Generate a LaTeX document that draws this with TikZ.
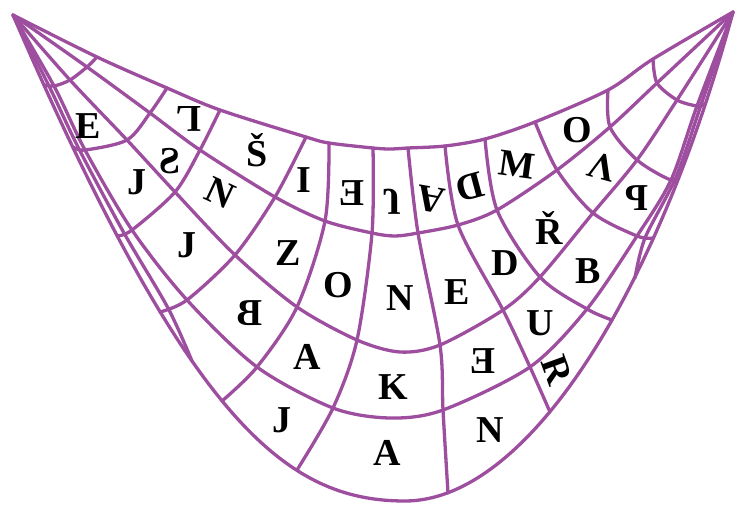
\documentclass[tikz,border=0pt]{standalone}
\usepackage{fontspec}
\setmainfont{Liberation Serif}
\definecolor{web}{RGB}{158,78,158}
\begin{document}
\begin{tikzpicture}[x=1pt,y=-1pt,
  wline/.style={draw=web,line width=3.3pt,line join=round,line cap=round},
  lt/.style={font=\fontsize{38}{40}\selectfont\bfseries,inner sep=0pt,text=black}]
\useasboundingbox (0,0) rectangle (738,506);
\coordinate (L) at (13,15);
\coordinate (R) at (733,12);
\coordinate (bot) at (405,501);
% grid points: a=B0 (top), b=B1, c=B2, d=B3, e=inner edge line, f=outer
\coordinate (c1a) at (97,57);  \coordinate (c1b) at (87,67);  \coordinate (c1c) at (70,80);  \coordinate (c1d) at (54,86);  \coordinate (c1e) at (49,86);  \coordinate (c1f) at (44,85);
\coordinate (c2a) at (167,88); \coordinate (c2b) at (150,113); \coordinate (c2c) at (127,140); \coordinate (c2d) at (85,150); \coordinate (c2e) at (79,149); \coordinate (c2f) at (73,147);
\coordinate (c3a) at (220,110); \coordinate (c3b) at (200,150); \coordinate (c3c) at (175,192); \coordinate (c3d) at (132,230); \coordinate (c3e) at (124,233); \coordinate (c3f) at (117,236);
\coordinate (c4a) at (306,137); \coordinate (c4b) at (275,197); \coordinate (c4c) at (235,255); \coordinate (c4d) at (187,300); \coordinate (c4e) at (168,308); \coordinate (c4f) at (160,312);
\coordinate (c5a) at (329,143); \coordinate (c5b) at (325,221); \coordinate (c5c) at (297,307); \coordinate (c5d) at (257,367); \coordinate (c5f) at (222,401);
\coordinate (c6a) at (373,148); \coordinate (c6b) at (372,233); \coordinate (c6c) at (357,340); \coordinate (c6d) at (333,408); \coordinate (c6f) at (297,470);
\coordinate (c7a) at (408,148); \coordinate (c7b) at (418,233); \coordinate (c7c) at (440,345); \coordinate (c7d) at (443,410); \coordinate (c7f) at (448,493);
\coordinate (c8a) at (445,146); \coordinate (c8b) at (458,225); \coordinate (c8c) at (503,310); \coordinate (c8d) at (530,367); \coordinate (c8f) at (550,412);
\coordinate (c9a) at (485,139); \coordinate (c9b) at (497,210); \coordinate (c9c) at (540,277); \coordinate (c9d) at (587,309); \coordinate (c9f) at (612,320);
\coordinate (c10a) at (535,122); \coordinate (c10b) at (557,170); \coordinate (c10c) at (593,213); \coordinate (c10d) at (637,236); \coordinate (c10e) at (645,238); \coordinate (c10f) at (653,238);
\coordinate (c11a) at (608,90); \coordinate (c11b) at (610,127); \coordinate (c11c) at (637,160); \coordinate (c11d) at (671,180); \coordinate (c11e) at (676,177); \coordinate (c11f) at (680,173);
\coordinate (c12a) at (653,59); \coordinate (c12b) at (657,83); \coordinate (c12c) at (677,100); \coordinate (c12d) at (697,106); \coordinate (c12e) at (701,105); \coordinate (c12f) at (705,104);
\coordinate (m0) at (390,149);
\coordinate (m1) at (395,236);
\coordinate (m2) at (400,352);
\coordinate (m3) at (390,418);
\coordinate (jl) at (192,361);
\coordinate (jr) at (635,278);
% band lines
\draw[wline] plot[smooth] coordinates {(L) (c1a) (c2a) (c3a) (c4a) (c5a) (c6a) (m0) (c7a) (c8a) (c9a) (c10a) (c11a) (c12a) (R)};
\draw[wline] plot[smooth] coordinates {(L) (c1b) (c2b) (c3b) (c4b) (c5b) (c6b) (m1) (c7b) (c8b) (c9b) (c10b) (c11b) (c12b) (R)};
\draw[wline] plot[smooth] coordinates {(L) (c1c) (c2c) (c3c) (c4c) (c5c) (c6c) (m2) (c7c) (c8c) (c9c) (c10c) (c11c) (c12c) (R)};
\draw[wline] plot[smooth] coordinates {(L) (c1d) (c2d) (c3d) (c4d) (c5d) (c6d) (m3) (c7d) (c8d) (c9d) (c10d) (c11d) (c12d) (R)};
\draw[wline] (L) .. controls (188,420) and (285,501) .. (bot) .. controls (525,501) and (655,300) .. (R);
\draw[wline] plot[smooth] coordinates {(L) (c1e) (c2e) (c3e) (c4e) (jl)};
\draw[wline] plot[smooth] coordinates {(R) (c12e) (c11e) (c10e) (jr)};
% cross lines
\draw[wline] plot[smooth] coordinates {(c1a) (c1b) (c1c) (c1d) (c1f)};
\draw[wline] plot[smooth] coordinates {(c2a) (c2b) (c2c) (c2d) (c2f)};
\draw[wline] plot[smooth] coordinates {(c3a) (c3b) (c3c) (c3d) (c3f)};
\draw[wline] plot[smooth] coordinates {(c4a) (c4b) (c4c) (c4d) (c4f)};
\draw[wline] plot[smooth] coordinates {(c5a) (c5b) (c5c) (c5d) (c5f)};
\draw[wline] plot[smooth] coordinates {(c6a) (c6b) (c6c) (c6d) (c6f)};
\draw[wline] plot[smooth] coordinates {(c7a) (c7b) (c7c) (c7d) (c7f)};
\draw[wline] plot[smooth] coordinates {(c8a) (c8b) (c8c) (c8d) (c8f)};
\draw[wline] plot[smooth] coordinates {(c9a) (c9b) (c9c) (c9d) (c9f)};
\draw[wline] plot[smooth] coordinates {(c10a) (c10b) (c10c) (c10d) (c10f)};
\draw[wline] plot[smooth] coordinates {(c11a) (c11b) (c11c) (c11d) (c11f)};
\draw[wline] plot[smooth] coordinates {(c12a) (c12b) (c12c) (c12d) (c12f)};
% letters, top band
\node[lt,rotate=180] (tL) at (189,119) {L};
\node[lt] (tS1) at (257,150) {Š};
\node[lt] (tI) at (304,180) {I};
\node[lt,xscale=-1] (tE2) at (352,193) {E};
\node[lt,yscale=-1] (tJ1) at (392,202) {J};
\node[lt,rotate=170] (tA1) at (431,199) {A};
\node[lt,rotate=15,xscale=-1] (tD1) at (470,187) {D};
\node[lt,rotate=-8] (tM) at (517,165) {M};
\node[lt] (tO1) at (577,130) {O};
% second band
\node[lt,xscale=-1] (tS2) at (170,161) {S};
\node[lt,rotate=-25] (tN1) at (220,193) {N};
\node[lt] (tZ) at (288,253) {Z};
\node[lt] (tO2) at (338,285) {O};
\node[lt] (tN2) at (400,298) {N};
\node[lt] (tE3) at (457,292) {E};
\node[lt] (tD2) at (505,263) {D};
\node[lt] (tR1) at (549,228) {Ř};
\node[lt,rotate=165] (tV) at (602,167) {V};
% third band
\node[lt] (tE1) at (88,126) {E};
\node[lt] (tJ2) at (137,182) {J};
\node[lt] (tJ3) at (187,245) {J};
\node[lt,xscale=-1] (tB1) at (250,313) {B};
\node[lt] (tA2) at (307,357) {A};
\node[lt] (tK) at (393,387) {K};
\node[lt,xscale=-1] (tE4) at (483,361) {E};
\node[lt] (tU) at (540,323) {U};
\node[lt] (tB2) at (588,271) {B};
\node[lt,xscale=-1] (tP) at (637,198) {P};
% bottom band
\node[lt] (tJ4) at (282,420) {J};
\node[lt] (tA3) at (387,453) {A};
\node[lt] (tN3) at (490,430) {N};
\node[lt,rotate=-70] (tR2) at (557,370) {R};
\end{tikzpicture}
\end{document}
